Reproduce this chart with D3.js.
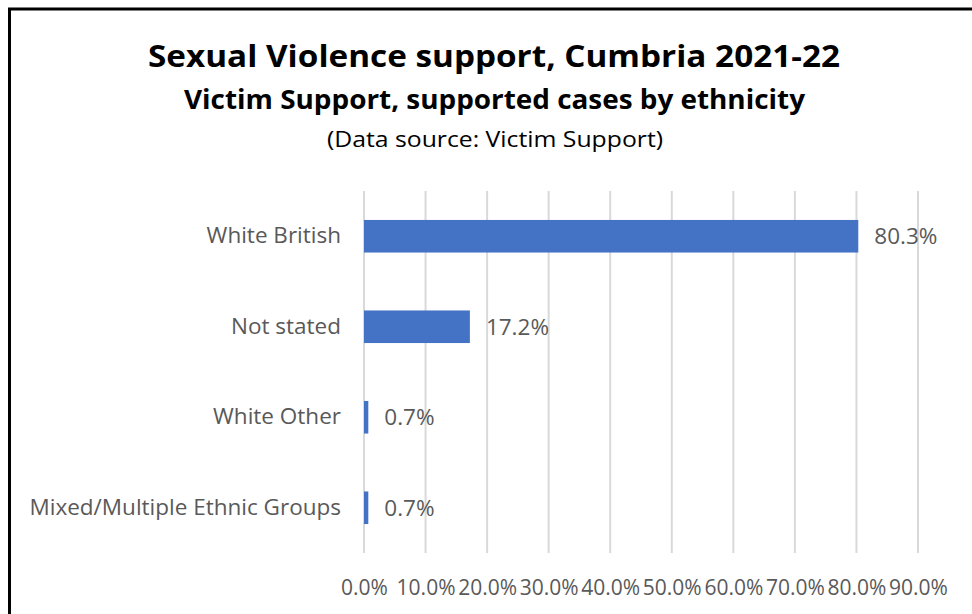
<!DOCTYPE html>
<html>
<head>
<meta charset="utf-8">
<script src="https://cdn.jsdelivr.net/npm/d3@7"></script>
<style>
  html, body { margin: 0; padding: 0; background: #fff; }
  svg { display: block; }
</style>
</head>
<body>
<svg id="chart" width="972" height="614"></svg>
<script>
const categories = ["White British", "Not stated", "White Other", "Mixed/Multiple Ethnic Groups"];
const values = [0.803, 0.172, 0.007, 0.007];
const valueLabels = ["80.3%", "17.2%", "0.7%", "0.7%"];
const tickValues = [0, 0.1, 0.2, 0.3, 0.4, 0.5, 0.6, 0.7, 0.8, 0.9];
const titleText = "Sexual Violence support, Cumbria 2021-22";
const subtitleText = "Victim Support, supported cases by ethnicity";
const sourceText = "(Data source: Victim Support)";

const svg = d3.select("#chart");
const font = "'Open Sans', 'Noto Sans', sans-serif";
const grey = "#595959";

// outer frame (cropped at right and bottom)
svg.append("rect")
  .attr("x", 9.5).attr("y", 9).attr("width", 1000).attr("height", 700)
  .attr("fill", "#fff").attr("stroke", "#000").attr("stroke-width", 3);

// titles
svg.append("text")
  .attr("x", 148).attr("y", 67)
  .attr("textLength", 692).attr("lengthAdjust", "spacingAndGlyphs")
  .attr("font-family", font).attr("font-weight", 700).attr("font-size", 31)
  .attr("fill", "#000").text(titleText);
svg.append("text")
  .attr("x", 184).attr("y", 109)
  .attr("textLength", 621).attr("lengthAdjust", "spacingAndGlyphs")
  .attr("font-family", font).attr("font-weight", 700).attr("font-size", 26)
  .attr("fill", "#000").text(subtitleText);
svg.append("text")
  .attr("x", 327).attr("y", 147)
  .attr("textLength", 336).attr("lengthAdjust", "spacingAndGlyphs")
  .attr("font-family", font).attr("font-weight", 400).attr("font-size", 22)
  .attr("fill", "#000").text(sourceText);

const x = d3.scaleLinear().domain([0, 0.9]).range([364, 918]);
const y = d3.scaleBand().domain(categories).range([191, 553])
  .paddingInner(0.64).paddingOuter(0.32);

// gridlines
svg.append("g").selectAll("line").data(tickValues).join("line")
  .attr("x1", d => x(d)).attr("x2", d => x(d))
  .attr("y1", 191).attr("y2", 553)
  .attr("stroke", "#d9d9d9").attr("stroke-width", 2);

// bars
svg.append("g").selectAll("rect").data(values).join("rect")
  .attr("x", x(0))
  .attr("y", (d, i) => y(categories[i]))
  .attr("width", d => x(d) - x(0))
  .attr("height", y.bandwidth())
  .attr("fill", "#4472c4");

// value labels
svg.append("g").selectAll("text").data(values).join("text")
  .attr("x", d => x(d) + 16)
  .attr("y", (d, i) => y(categories[i]) + y.bandwidth() / 2)
  .attr("dy", "0.36em")
  .attr("font-family", font).attr("font-size", 22.5)
  .attr("fill", grey)
  .text((d, i) => valueLabels[i]);

// category axis
const yAxis = svg.append("g").attr("transform", `translate(${x(0)},0)`)
  .call(d3.axisLeft(y).tickSize(0).tickPadding(23));
yAxis.select(".domain").remove();
yAxis.selectAll("text")
  .attr("font-family", font).attr("font-size", 22.5).attr("fill", grey);

// value axis
const xAxis = svg.append("g").attr("transform", "translate(0,553)")
  .call(d3.axisBottom(x).tickValues(tickValues).tickSize(0).tickPadding(27)
    .tickFormat(d3.format(".1%")));
xAxis.select(".domain").remove();
xAxis.selectAll("text")
  .attr("font-family", font).attr("font-size", 21).attr("fill", grey);
</script>
</body>
</html>
